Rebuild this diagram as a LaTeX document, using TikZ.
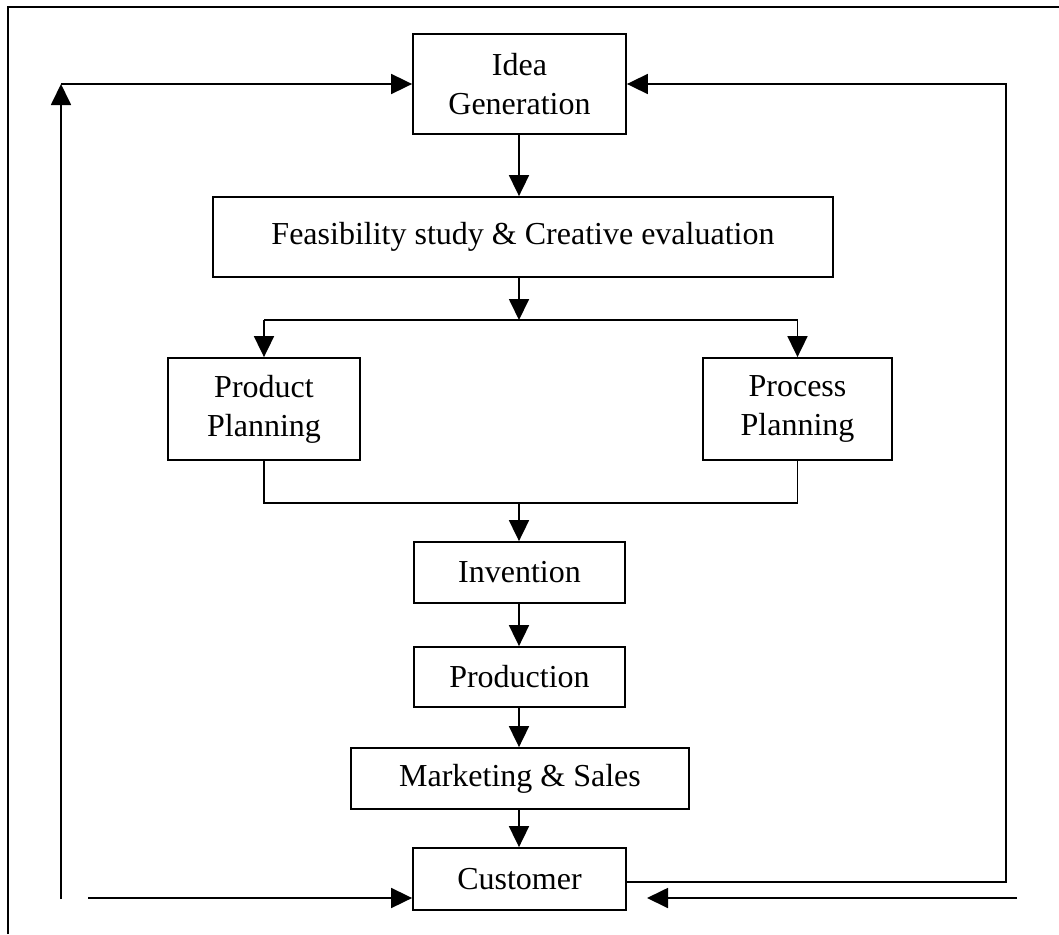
\documentclass[tikz,border=0pt]{standalone}
\usepackage{fontspec}
\setmainfont{Liberation Serif}
\usetikzlibrary{arrows.meta}

\tikzset{
  box/.style={draw, line width=1.8pt, inner sep=0pt, align=center,
    font=\fontsize{32}{39}\selectfont},
  link/.style={line width=1.8pt},
  flow/.style={link, -{Triangle[length=21pt,width=20pt]}},
}

\begin{document}
\begin{tikzpicture}[x=1pt, y=-1pt]
  \useasboundingbox (0,0) rectangle (1059,934);

  % frame (top and left edges)
  \draw[line width=2.6pt] (8,934) -- (8,7) -- (1059,7);

  % process boxes
  \node[box, minimum width=213pt, minimum height=100pt] (idea) at (519.5,84) {Idea\\Generation};
  \node[box, minimum width=620pt, minimum height=80pt]  (feas) at (523,237) {Feasibility study \& Creative evaluation};
  \node[box, minimum width=192pt, minimum height=102pt] (prod) at (264,409) {Product\\Planning};
  \node[box, minimum width=189pt, minimum height=102pt] (proc) at (797.5,409) {Process\\Planning};
  \node[box, minimum width=211pt, minimum height=61pt]  (inv)  at (519.5,572.5) {Invention};
  \node[box, minimum width=211pt, minimum height=60pt]  (pdn)  at (519.5,677) {Production};
  \node[box, minimum width=338pt, minimum height=61pt]  (mkt)  at (520,778.5) {Marketing \& Sales};
  \node[box, minimum width=213pt, minimum height=62pt]  (cust) at (519.5,879) {Customer};

  % junction points
  \coordinate (split) at (519,320);
  \coordinate (merge) at (519,503);
  \coordinate (lbot) at (61,899);
  \coordinate (ltop) at (61,84);
  \coordinate (lin)  at (88,898);
  \coordinate (rbot) at (1006,882);
  \coordinate (rtop) at (1006,84);
  \coordinate (rin)  at (1017,898);
  \coordinate (rtip) at (647,898);

  % main flow
  \draw[flow] (idea.south -| split) -- (feas.north -| split);
  \draw[flow] (feas.south -| split) -- (split);
  \draw[link] (prod.north |- split) -- (proc.north |- split);
  \draw[flow] (prod.north |- split) -- (prod.north);
  \draw[flow] (proc.north |- split) -- (proc.north);
  \draw[link] (prod.south) |- (merge) -| (proc.south);
  \draw[flow] (merge) -- (inv.north -| merge);
  \draw[flow] (inv.south -| merge) -- (pdn.north -| merge);
  \draw[flow] (pdn.south -| merge) -- (mkt.north -| merge);
  \draw[flow] (mkt.south -| merge) -- (cust.north -| merge);

  % feedback loops
  \draw[flow] (lbot) -- (ltop);
  \draw[flow] (ltop) -- (idea.west |- ltop);
  \draw[flow] (lin) -- (cust.west |- lin);
  \draw[flow] (cust.east |- rbot) -- (rbot) -- (rtop) -- (idea.east |- rtop);
  \draw[flow] (rin) -- (rtip);
\end{tikzpicture}
\end{document}
